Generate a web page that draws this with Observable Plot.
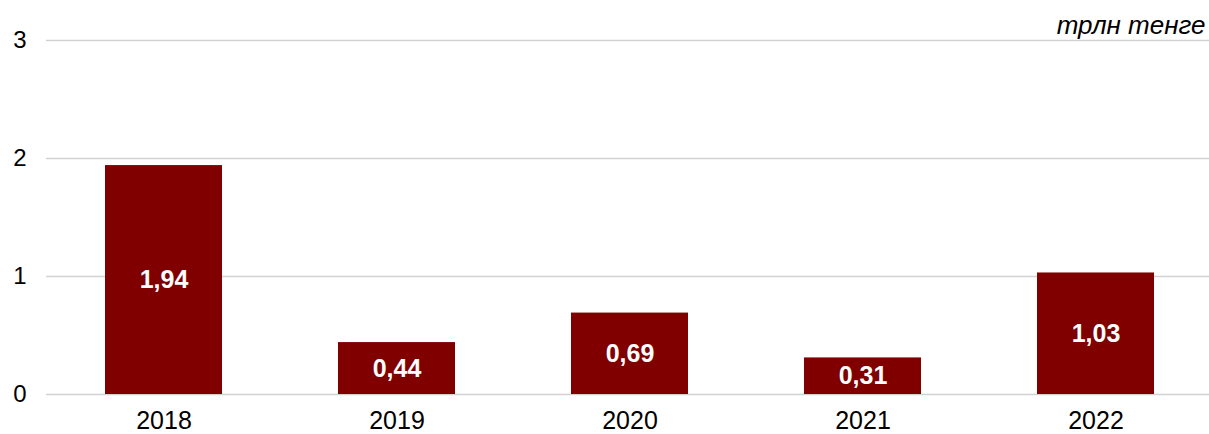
<!DOCTYPE html>
<html>
<head>
<meta charset="utf-8">
<script src="https://cdn.jsdelivr.net/npm/d3@7"></script>
<script src="https://cdn.jsdelivr.net/npm/@observablehq/plot@0.6"></script>
<style>
  html, body { margin: 0; padding: 0; background: #fff; }
  #chart svg { display: block; }
</style>
</head>
<body>
<div id="chart"></div>
<script>
const years = ["2018", "2019", "2020", "2021", "2022"];
const values = [1.94, 0.44, 0.69, 0.31, 1.03];
const yTicks = [0, 1, 2, 3];
const unitNote = "трлн тенге";

const data = years.map((year, i) => ({
  year,
  value: values[i],
  label: values[i].toFixed(2).replace(".", ",")
}));

const chart = Plot.plot({
  width: 1209,
  height: 434,
  marginLeft: 46,
  marginRight: 0,
  marginTop: 40,
  marginBottom: 40,
  style: { fontFamily: "'Liberation Sans', Arial, sans-serif", background: "#fff", color: "#000" },
  x: { type: "band", domain: years, range: [46, 1213], paddingInner: 0.5, paddingOuter: 0.25 },
  y: { domain: [0, 3] },
  marks: [
    Plot.ruleY(yTicks, { stroke: "#d2d2d2", strokeWidth: 1.6 }),
    Plot.barY(data, { x: "year", y: "value", fill: "#800000" }),
    Plot.text(data, {
      x: "year",
      y: d => d.value / 2,
      text: "label",
      fill: "#fff",
      fontSize: 25,
      fontWeight: "bold",
      lineAnchor: "middle"
    }),
    Plot.axisY({ ticks: yTicks, tickSize: 0, tickPadding: 20, fontSize: 24, label: null, tickFormat: d => String(d) }),
    Plot.axisX({ tickSize: 0, tickPadding: 17, fontSize: 25, label: null }),
    Plot.text([unitNote], {
      frameAnchor: "top-right",
      text: d => d,
      textAnchor: "end",
      lineAnchor: "middle",
      dx: -4,
      dy: -14.5,
      fontSize: 26,
      fontStyle: "italic",
      fill: "#000"
    })
  ]
});

document.getElementById("chart").appendChild(chart);
</script>
</body>
</html>
